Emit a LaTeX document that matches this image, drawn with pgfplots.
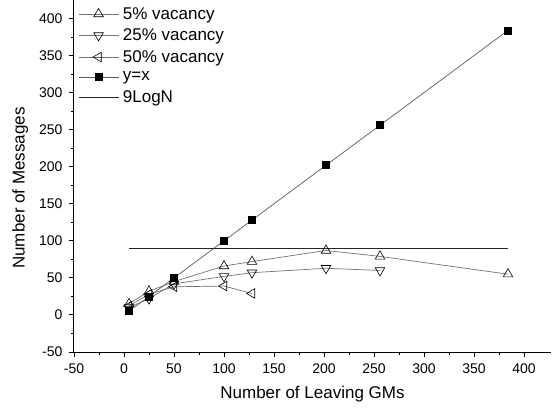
\documentclass[border=0pt]{standalone}
\usepackage{pgfplots}
\pgfplotsset{compat=1.18}
\usepackage{fontspec}
\setmainfont{Liberation Sans}
\newcommand\ls{\hspace*{2pt}}
\begin{document}
\begin{tikzpicture}
\useasboundingbox (-74pt,-62pt) rectangle (479pt,352pt);
\begin{axis}[
  scale only axis,
  width=477pt, height=352pt,
  xmin=-50, xmax=427, ymin=-50, ymax=425,
  axis x line=bottom, axis y line=left,
  axis line style={-, line width=1pt},
  tick align=outside,
  xtick={-50,0,...,400}, ytick={-50,0,...,400},
  minor tick num=1,
  major tick length=5pt, minor tick length=3pt,
  every tick/.style={black, line width=0.9pt},
  ticklabel style={font=\fontsize{14pt}{16pt}\selectfont},
  xticklabel style={yshift=-3pt},
  yticklabel style={xshift=-3pt},
  /pgf/number format/assume math mode=true,
  xlabel={Number of Leaving GMs},
  ylabel={Number of Messages},
  label style={font=\fontsize{17pt}{19pt}\selectfont},
  xlabel style={yshift=-6pt},
  ylabel style={yshift=4pt, xshift=-12pt},
  legend style={at={(axis cs:-48,420.8)}, anchor=north west, draw=none, fill=none,
    font=\fontsize{17pt}{19pt}\selectfont, row sep=4.2pt, inner sep=2pt},
  legend cell align=left,
  every axis plot/.append style={line width=0.7pt},
  legend image code/.code={\draw[mark repeat=2,mark phase=2,#1] plot coordinates {(0pt,0pt) (20pt,0pt) (40pt,0pt)};},
  clip=false,
]
\addplot[color=black!55, mark=triangle, mark size=5.5pt, mark options={fill=white, draw=black, line width=0.6pt}]
  coordinates {(5,15) (25,32) (50,45) (100,66) (128,72) (202,87) (256,79) (384,55)};
\addlegendentry{\ls 5\% vacancy}
\addplot[color=black!55, mark=triangle, mark size=5.5pt, mark options={rotate=180, fill=white, draw=black, line width=0.6pt}]
  coordinates {(5,10) (25,22) (50,42) (100,52) (128,57) (202,63) (256,60)};
\addlegendentry{\ls 25\% vacancy}
\addplot[color=black!55, mark=triangle, mark size=5.5pt, mark options={rotate=90, fill=white, draw=black, line width=0.6pt}]
  coordinates {(5,12) (25,28) (50,38) (100,39) (128,29)};
\addlegendentry{\ls 50\% vacancy}
\addplot[color=black!65, mark=square*, mark size=3.5pt, mark options={fill=black, draw=black}]
  coordinates {(5,5) (25,25) (50,50) (100,100) (128,128) (202,202) (256,256) (384,384)};
\addlegendentry{\ls y=x}
\addplot[color=black!85, no marks, line width=0.7pt]
  coordinates {(5,89.5) (384,89.5)};
\addlegendentry{\ls 9LogN}
\end{axis}
\end{tikzpicture}
\end{document}
